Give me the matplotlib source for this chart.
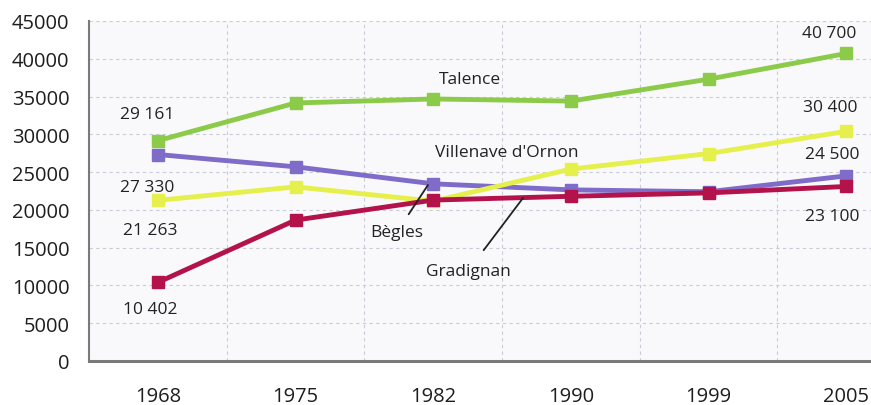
import numpy as np
import matplotlib.pyplot as plt

YEARS = ["1968", "1975", "1982", "1990", "1999", "2005"]

TALENCE   = [29161, 34150, 34680, 34400, 37300, 40700]
VILLENAVE = [21263, 23050, 21150, 25400, 27450, 30400]
BEGLES    = [27330, 25700, 23450, 22650, 22400, 24500]
GRADIGNAN = [10402, 18650, 21300, 21800, 22250, 23100]

LABELS_START = ["29 161", "21 263", "27 330", "10 402"]
LABELS_END   = ["40 700", "30 400", "24 500", "23 100"]

FONT = ["Open Sans", "DejaVu Sans"]
plt.rcParams["font.family"] = FONT

fig = plt.figure(figsize=(8.71, 4.06), dpi=100)
# plot area is cropped at the right edge in the reference
ax = fig.add_axes([89 / 871, 44 / 406, 826 / 871, 340 / 406])
ax.set_facecolor("#f9f9fb")

x = np.arange(len(YEARS))
series = [
    (TALENCE,   "#8ccb4a"),
    (BEGLES,    "#7f6bc8"),
    (VILLENAVE, "#e6f04c"),
    (GRADIGNAN, "#b3124a"),
]
for vals, col in series:
    ax.plot(x, vals, color=col, lw=3.5, marker="s", ms=9, mec=col, mfc=col,
            solid_capstyle="butt", zorder=3)

ax.set_xlim(-0.5, 5.5)
ax.set_ylim(0, 45000)
ax.set_yticks(np.arange(0, 45001, 5000))
ax.set_xticks(x)
ax.set_xticklabels(YEARS)
ax.tick_params(axis="both", length=0, labelsize=14.5, colors="#1e1e1e")
ax.tick_params(axis="y", pad=14)
ax.tick_params(axis="x", pad=18)

for yv in np.arange(5000, 45001, 5000):
    ax.axhline(yv, color="#c9ccd8", lw=0.8, ls=(0, (3, 3)), zorder=1)
for xv in np.arange(0.5, 5.5, 1.0):
    ax.axvline(xv, color="#c9ccd8", lw=0.8, ls=(0, (3, 3)), zorder=1)

for side in ["top", "right"]:
    ax.spines[side].set_visible(False)
ax.spines["left"].set_color("#7a7a7a")
ax.spines["left"].set_linewidth(1.5)
ax.spines["bottom"].set_color("#7a7a7a")
ax.spines["bottom"].set_linewidth(2.2)


def px(xp, yp):
    # pixel position in the figure -> data coordinates
    return (xp - 158) / 137.6, (362 - yp) / 340 * 45000


txt = dict(fontsize=12.5, color="#222222", ha="center", va="center")
for (xp, yp), s in zip([(147, 115), (150, 231), (147, 188), (150, 310)], LABELS_START):
    ax.text(*px(xp, yp), s, **txt)
for (xp, yp), s in zip([(829, 34), (830, 108), (832, 155), (832, 217)], LABELS_END):
    ax.text(*px(xp, yp), s, **txt)

ax.text(*px(470, 80), "Talence", **txt)
ax.text(*px(507, 153), "Villenave d'Ornon", **txt)
ax.annotate("Bègles", xy=px(428, 186), xytext=px(397, 233),
            arrowprops=dict(arrowstyle="-", color="#222222", lw=1.3,
                            shrinkA=6, shrinkB=0), **txt)
ax.annotate("Gradignan", xy=px(523, 199), xytext=px(468, 272),
            arrowprops=dict(arrowstyle="-", color="#222222", lw=1.3,
                            shrinkA=9, shrinkB=0), **txt)

fig.savefig("out.png", dpi=100)
